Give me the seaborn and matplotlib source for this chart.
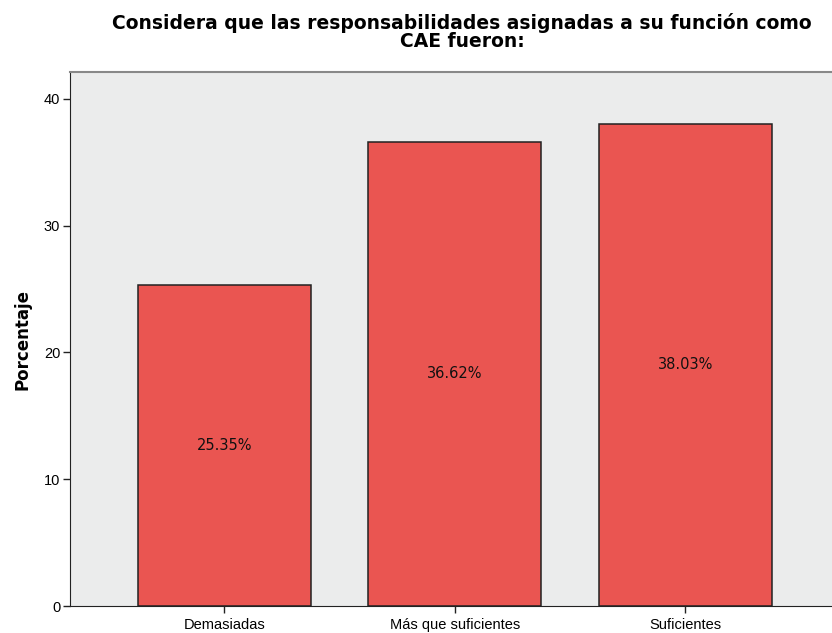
import pandas as pd
import matplotlib
matplotlib.use("Agg")
import matplotlib.pyplot as plt
import seaborn as sns

# data
categorias = ["Demasiadas", "Más que suficientes", "Suficientes"]
porcentajes = [25.35, 36.62, 38.03]
etiquetas = ["25.35%", "36.62%", "38.03%"]

df = pd.DataFrame({"cat": categorias, "pct": porcentajes})

sns.set_style("white")
plt.rcParams["font.family"] = ["Liberation Sans", "DejaVu Sans"]
plt.rcParams["text.color"] = "black"
plt.rcParams["axes.labelcolor"] = "black"

fig = plt.figure(figsize=(8.32, 6.33), dpi=100)
ax = fig.add_axes([70 / 832, 27 / 633, 1 - 70 / 832, (606 - 72) / 633])
ax.set_facecolor("#EBECEC")

sns.barplot(data=df, x="cat", y="pct", color="#EA5551", saturation=1,
            width=0.75, edgecolor="#222222", linewidth=1.1, ax=ax)

# labels in the middle of each bar
for i, (v, t) in enumerate(zip(porcentajes, etiquetas)):
    ax.text(i, v / 2, t, ha="center", va="center", fontsize=10.5,
            family="DejaVu Sans", color="#111111")

ax.set_xlim(-0.67, 2.636)
ax.set_ylim(0, 42.13)
ax.set_yticks([0, 10, 20, 30, 40])
ax.set_xlabel("")
ax.set_ylabel("Porcentaje", fontsize=12, fontweight="bold", family="DejaVu Sans",
              labelpad=9)
ax.tick_params(axis="both", direction="out", length=5, width=1, colors="#222222",
               labelsize=10.5, labelcolor="black", bottom=True, left=True)
ax.tick_params(axis="y", pad=2)

ax.spines["right"].set_visible(False)
ax.spines["left"].set_color("#222222")
ax.spines["bottom"].set_color("#222222")
ax.spines["top"].set_color("#888888")
ax.spines["top"].set_linewidth(1.5)

fig.text(462 / 832, 1 - 32 / 633,
         "Considera que las responsabilidades asignadas a su función como\nCAE fueron:",
         ha="center", va="center", fontsize=13.5, fontweight="bold",
         family="DejaVu Sans", linespacing=0.92)

fig.savefig("out.png", dpi=100)
